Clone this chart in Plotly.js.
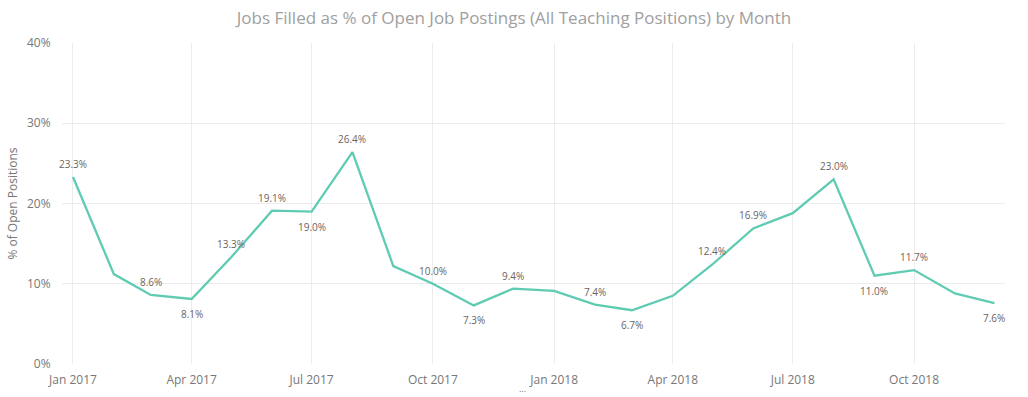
<!DOCTYPE html>
<html>
<head>
<meta charset="utf-8">
<script src="https://cdn.plot.ly/plotly-3.0.1.min.js"></script>
<style>html,body{margin:0;padding:0;background:#fff;}#chart{width:1028px;height:397px;}</style>
</head>
<body>
<div id="chart"></div>
<script>
const months = ['2017-01-01','2017-02-01','2017-03-01','2017-04-01','2017-05-01','2017-06-01','2017-07-01','2017-08-01','2017-09-01','2017-10-01','2017-11-01','2017-12-01',
                '2018-01-01','2018-02-01','2018-03-01','2018-04-01','2018-05-01','2018-06-01','2018-07-01','2018-08-01','2018-09-01','2018-10-01','2018-11-01','2018-12-01'];
const pctFilled = [23.3, 11.2, 8.6, 8.1, 13.3, 19.1, 19.0, 26.4, 12.2, 10.0, 7.3, 9.4,
                   9.1, 7.4, 6.7, 8.5, 12.4, 16.9, 18.8, 23.0, 11.0, 11.7, 8.8, 7.6];
const labelShown = [1,0,1,1,1,1,1,1,0,1,1,1, 0,1,1,0,1,1,0,1,1,1,0,1];
const labelPlace = ['top','','top','bottom','top','top','bottom','top','','top','bottom','top',
                    '','top','bottom','','top','top','','top','bottom','top','','bottom'];
const tickVals = ['2017-01-01','2017-04-01','2017-07-01','2017-10-01','2018-01-01','2018-04-01','2018-07-01','2018-10-01'];
const tickText = ['Jan 2017','Apr 2017','Jul 2017','Oct 2017','Jan 2018','Apr 2018','Jul 2018','Oct 2018'];

const FONT = '"Open Sans", "Noto Sans", sans-serif';
const lineTrace = {
  x: months, y: pctFilled, type: 'scatter', mode: 'lines',
  line: {color: '#5fcbb2', width: 2.3}, hoverinfo: 'x+y', showlegend: false
};
const labelAnns = [];
months.forEach((m, i) => {
  if (!labelShown[i]) return;
  labelAnns.push({
    x: m, y: pctFilled[i], xref: 'x', yref: 'y',
    text: pctFilled[i].toFixed(1) + '%', showarrow: false,
    yanchor: 'middle', yshift: labelPlace[i] === 'top' ? 13 : -15,
    font: {family: FONT, size: 10, color: '#6b6460'}
  });
});
labelAnns.push({text: '...', xref: 'paper', yref: 'paper', x: 0.488, y: -0.102, yanchor: 'bottom',
                showarrow: false, font: {family: FONT, size: 9, color: '#777'}});

const layout = {
  width: 1028, height: 397,
  margin: {l: 62, r: 23, t: 43, b: 33},
  paper_bgcolor: '#fff', plot_bgcolor: '#fff',
  font: {family: FONT, color: '#777'},
  title: {text: 'Jobs Filled as % of Open Job Postings (All Teaching Positions) by Month',
          font: {family: FONT, size: 17, color: '#a0a0a0'}, x: 0.5, xanchor: 'center', y: 0.955, yanchor: 'middle'},
  xaxis: {
    type: 'date', range: ['2016-12-23 16:00', '2018-12-09'],
    tickvals: tickVals, ticktext: tickText,
    ticks: 'outside', ticklen: 5, tickcolor: 'rgba(0,0,0,0)',
    showgrid: true, gridcolor: '#ececec', gridwidth: 1,
    zeroline: false, showline: false,
    tickfont: {family: FONT, size: 12, color: '#777'}
  },
  yaxis: {
    range: [0, 40], tickvals: [0, 10, 20, 30, 40], ticktext: ['0%', '10%', '20%', '30%', '40%'],
    showgrid: true, gridcolor: '#ececec', gridwidth: 1, zeroline: false, showline: false,
    ticks: 'outside', ticklen: 8, tickcolor: 'rgba(0,0,0,0)',
    tickfont: {family: FONT, size: 12, color: '#777'},
    title: {text: '% of Open Positions', font: {family: FONT, size: 12, color: '#777'}, standoff: 6}
  },
  annotations: labelAnns
};
Plotly.newPlot('chart', [lineTrace], layout, {displayModeBar: false, staticPlot: true});
</script>
</body>
</html>
